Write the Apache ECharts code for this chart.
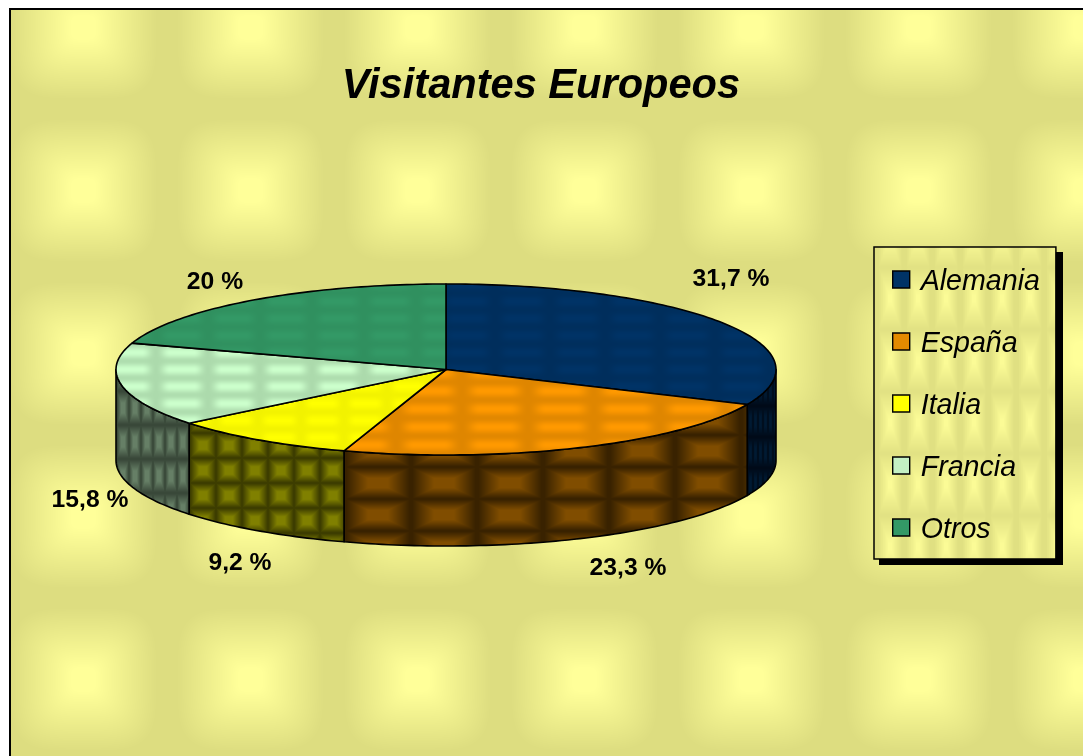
<!DOCTYPE html>
<html>
<head>
<meta charset="utf-8">
<style>html,body{margin:0;padding:0;background:#fff}#c{width:1083px;height:756px}</style>
<script src="https://cdn.jsdelivr.net/npm/echarts@6/dist/echarts.min.js"></script>
</head>
<body>
<div id="c"></div>
<script>
const titleText = 'Visitantes Europeos';
const categories = ['Alemania', 'España', 'Italia', 'Francia', 'Otros'];
const shares = [31.7, 23.3, 9.2, 15.8, 20];

// Styling, kept apart from the data
const topHi = ['#003366', '#FF9900', '#FFFF00', '#CCFFCC', '#339966'];
const topLo = ['#002E5C', '#DF8600', '#F2F200', '#ACDAAC', '#30905F'];
const sideHi = ['#001A33', '#804D00', '#808000', '#667F66', '#1A4D33'];
const sideLo = ['#000A18', '#392200', '#3D3D00', '#394839', '#0D2619'];
const swatch = ['#003366', '#E48A00', '#FFFF00', '#C4F0C4', '#339966'];
const topTile = [[55, 17], [66, 18], [43, 17], [52, 17], [52, 17]];
const sideTile = [[5, 31], [66, 32], [26, 25], [12, 34], [12, 31]];
const sideOrigin = [[748, 375], [345, 467], [190, 458], [117, 425], [117, 425]];
const labelAnchor = [[731, 279], [628, 568], [240, 563], [90, 500], [215, 282]];
const PIE = { cx: 446, cy: 369.5, rx: 330, ry: 85.5, depth: 91 };
const FONT = '"Liberation Sans", Arial, sans-serif';

function rgb(h) { return [1, 3, 5].map(i => parseInt(h.substr(i, 2), 16)); }

function tile(w, h, hi, lo, shade) {
  const c = document.createElement('canvas');
  c.width = w; c.height = h;
  const g = c.getContext('2d');
  const img = g.createImageData(w, h);
  const A = rgb(hi), B = rgb(lo);
  for (let y = 0; y < h; y++) for (let x = 0; x < w; x++) {
    const u = Math.abs((x + 0.5) / w - 0.5) * 2, v = Math.abs((y + 0.5) / h - 0.5) * 2;
    const t = Math.max(0, Math.min(1, shade(u, v)));
    const k = (y * w + x) * 4;
    for (let i = 0; i < 3; i++) img.data[k + i] = B[i] + (A[i] - B[i]) * t;
    img.data[k + 3] = 255;
  }
  g.putImageData(img, 0, 0);
  return c;
}
const smooth = t => { t = Math.max(0, Math.min(1, t)); return t * t * (3 - 2 * t); };
const softMax = (u, v) => Math.pow(Math.pow(u, 4) + Math.pow(v, 4), 0.25);
const pageShade = (u, v) => 1 - (softMax(u, v) - 0.14) / 0.74;
const lens = (u, v) => smooth((1 - u) / 0.55) * (0.55 + 0.45 * Math.cos(Math.PI * v));
const box = (u, v) => 1 - (Math.max(u, v) - 0.3) / 0.65;

const pageFill = { image: tile(167, 163, '#FFFF99', '#DDDD80', pageShade), repeat: 'repeat', x: 0, y: -54 };
const legendFill = { image: tile(28, 62, '#FBFB96', '#E0E082', (u, v) => 1 - (Math.max(u, v * 0.8) - 0.1) / 0.75), repeat: 'repeat', x: 12, y: 0 };

const toRad = p => p / 100 * Math.PI * 2;
function rim(a, yOff) {
  return [PIE.cx + PIE.rx * Math.sin(a), PIE.cy - PIE.ry * Math.cos(a) + (yOff || 0)];
}
function arc(a0, a1, yOff) {
  const n = Math.max(2, Math.ceil(Math.abs(a1 - a0) / 0.02)), pts = [];
  for (let i = 0; i <= n; i++) pts.push(rim(a0 + (a1 - a0) * i / n, yOff));
  return pts;
}

function renderSlice(params, api) {
  const i = params.seriesIndex;
  const v = api.value(0);
  const before = shares.slice(0, i).reduce((s, x) => s + x, 0);
  const a0 = toRad(before), a1 = toRad(before + v);
  const children = [];
  const line = { stroke: '#000', lineWidth: 1.6, lineJoin: 'round' };

  // visible part of the outer wall: the front half of the rim
  const w0 = Math.max(a0, Math.PI / 2), w1 = Math.min(a1, Math.PI * 1.5);
  if (w1 > w0) {
    const pts = arc(w0, w1, 0).concat(arc(w1, w0, PIE.depth));
    children.push({
      type: 'polygon', shape: { points: pts },
      style: Object.assign({
        fill: { image: tile(sideTile[i][0], sideTile[i][1], sideHi[i], sideLo[i], box), repeat: 'repeat', x: sideOrigin[i][0], y: sideOrigin[i][1] }
      }, line)
    });
  }
  // top face
  children.push({
    type: 'polygon', shape: { points: [[PIE.cx, PIE.cy]].concat(arc(a0, a1, 0)) },
    style: Object.assign({
      fill: { image: tile(topTile[i][0], topTile[i][1], topHi[i], topLo[i], lens), repeat: 'repeat', x: 0, y: 4 }
    }, line)
  });
  // value label
  children.push({
    type: 'text',
    style: {
      x: labelAnchor[i][0], y: labelAnchor[i][1],
      text: String(v).replace('.', ',') + ' %',
      font: 'bold 24.7px ' + FONT, fill: '#000', align: 'center', verticalAlign: 'middle'
    }
  });
  return { type: 'group', children };
}

const chart = echarts.init(document.getElementById('c'), null, { renderer: 'canvas' });
chart.setOption({
  animation: false,
  backgroundColor: '#fff',
  title: {
    text: titleText, left: 536, top: 82, textAlign: 'center', textVerticalAlign: 'middle',
    textStyle: { fontFamily: FONT, fontSize: 41.6, fontWeight: 'bold', fontStyle: 'italic', color: '#000' }
  },
  legend: {
    orient: 'vertical', left: 874, top: 247,
    data: categories,
    itemWidth: 17, itemHeight: 22, itemGap: 33,
    padding: [20.5, 16, 14.5, 18],
    backgroundColor: legendFill,
    borderColor: '#000', borderWidth: 1.5,
    icon: 'path://M0 0H17V17H0Z M0 22L0 22',
    itemStyle: { borderColor: '#000', borderWidth: 1.4 },
    textStyle: { fontFamily: FONT, fontSize: 28.6, fontStyle: 'italic', color: '#000', lineHeight: 28, padding: [0, 0, 0, 6] }
  },
  graphic: [{
    type: 'rect', z: -10, silent: true,
    shape: { x: 10, y: 9, width: 1200, height: 900 },
    style: { fill: pageFill, stroke: '#000', lineWidth: 2 }
  }, {
    type: 'rect', z: -5, silent: true,
    shape: { x: 879, y: 252, width: 184, height: 313 },
    style: { fill: '#000' }
  }],
  series: categories.map((name, i) => ({
    type: 'custom', name, coordinateSystem: 'none',
    renderItem: renderSlice,
    itemStyle: { color: swatch[i] },
    data: [[shares[i]]],
    silent: true
  }))
});
</script>
</body>
</html>
